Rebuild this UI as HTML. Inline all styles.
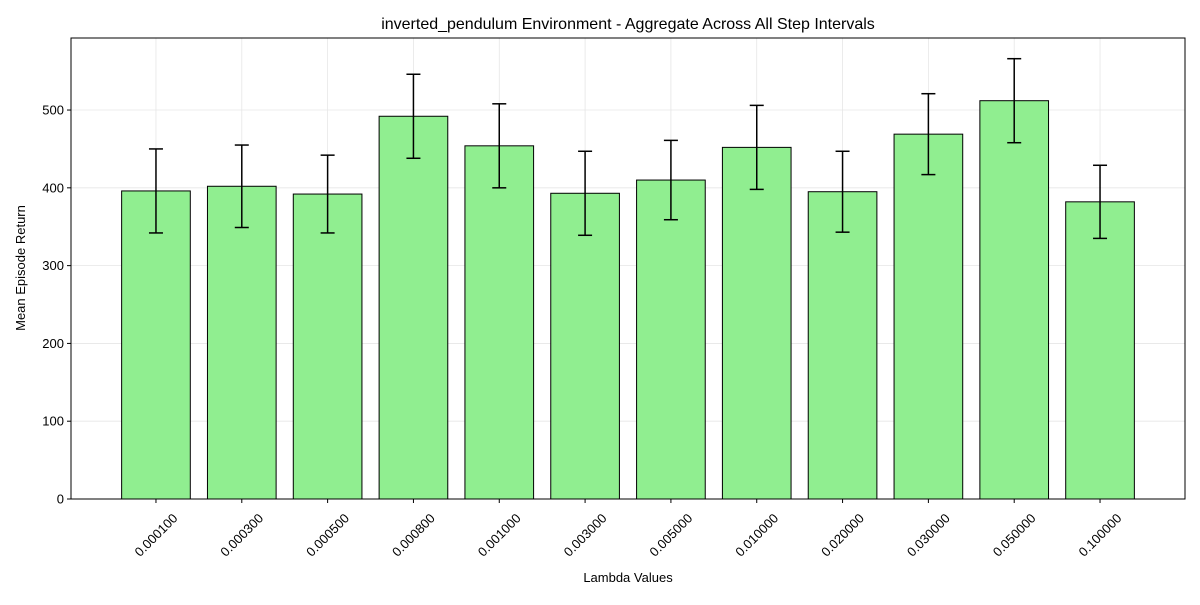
<!DOCTYPE html>
<html><head><meta charset="utf-8"><style>body{margin:0;background:#fff}svg{font-family:"Liberation Sans","DejaVu Sans",sans-serif}</style></head>
<body>
<svg id="chart" width="1200" height="600"></svg>
<script>
const categories=["0.000100","0.000300","0.000500","0.000800","0.001000","0.003000","0.005000","0.010000","0.020000","0.030000","0.050000","0.100000"];
const means=[396,402,392,492,454,393,410,452,395,469,512,382];
const errors=[54,53,50,54,54,54,51,54,52,52,54,47];
const yTicks=[0,100,200,300,400,500];
const L=71,R=1185,T=38,B=499,yMax=592.6,xMin=-0.99,xMax=11.99;
const sx=v=>L+(v-xMin)/(xMax-xMin)*(R-L);
const sy=v=>B-v/yMax*(B-T);
const svg=document.getElementById('chart');const NS='http://www.w3.org/2000/svg';
function el(t,a,txt){const e=document.createElementNS(NS,t);for(const k in a)e.setAttribute(k,a[k]);if(txt!==undefined)e.textContent=txt;svg.appendChild(e);return e;}
let e;
yTicks.forEach(v=>{e=el('line',{x1:L,x2:R,y1:sy(v),y2:sy(v),stroke:'#e6e6e6','stroke-width':0.8});

});
categories.forEach((c,i)=>{e=el('line',{x1:sx(i),x2:sx(i),y1:T,y2:B,stroke:'#e6e6e6','stroke-width':0.8});

});
const bw=0.8*(sx(1)-sx(0));
categories.forEach((c,i)=>{
 e=el('rect',{x:sx(i)-bw/2,y:sy(means[i]),width:bw,height:B-sy(means[i]),fill:'#90ee90',stroke:'#000','stroke-width':1});
 
 
 const x=sx(i),y1=sy(means[i]+errors[i]),y2=sy(means[i]-errors[i]);
 e=el('line',{x1:x,x2:x,y1:y1,y2:y2,stroke:'#000','stroke-width':1.5});
 
 
 [y1,y2].forEach(y=>{e=el('line',{x1:x-7,x2:x+7,y1:y,y2:y,stroke:'#000','stroke-width':1.5});
 
 });
 e=el('line',{x1:x,x2:x,y1:B,y2:B+4,stroke:'#000'});
 
 
 const cy=B+36;
 e=el('text',{x:x,y:cy+4.5,'font-size':13,'text-anchor':'middle',transform:`rotate(-45 ${x} ${cy})`},c);
 
 
});
yTicks.forEach(v=>{e=el('line',{x1:L-4,x2:L,y1:sy(v),y2:sy(v),stroke:'#000'});


e=el('text',{x:L-7,y:sy(v)+4.5,'font-size':13,'text-anchor':'end'},v);

});
e=el('rect',{x:L,y:T,width:R-L,height:B-T,fill:'none',stroke:'#000','stroke-width':1});


e=el('text',{x:628,y:29,'font-size':16,'text-anchor':'middle'},'inverted_pendulum Environment - Aggregate Across All Step Intervals');


e=el('text',{x:628,y:582,'font-size':13,'text-anchor':'middle'},'Lambda Values');


e=el('text',{x:25,y:268,'font-size':13,'text-anchor':'middle',transform:'rotate(-90 25 268)'},'Mean Episode Return');


</script>
</body></html>
